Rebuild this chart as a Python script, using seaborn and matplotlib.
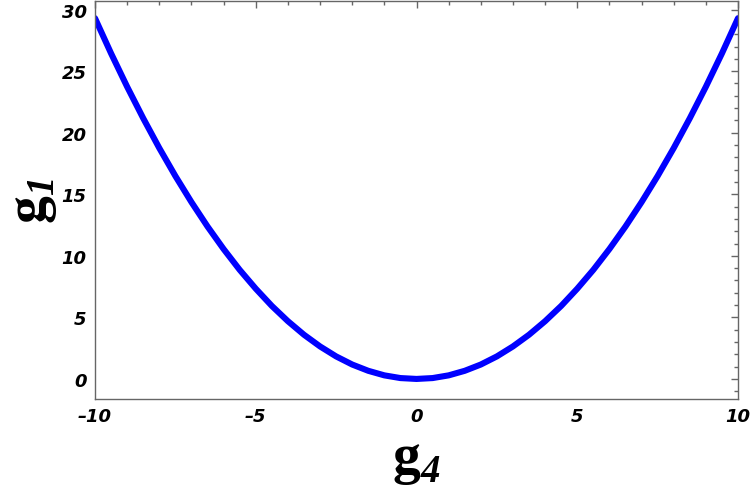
import matplotlib
matplotlib.use("Agg")
import matplotlib.pyplot as plt
import seaborn as sns
import numpy as np
import pandas as pd
from matplotlib.ticker import MultipleLocator

# values
g4_values = [-10, -9.5, -9, -8.5, -8, -7.5, -7, -6.5, -6, -5.5, -5, -4.5, -4, -3.5, -3, -2.5, -2, -1.5, -1, -0.5,
             0, 0.5, 1, 1.5, 2, 2.5, 3, 3.5, 4, 4.5, 5, 5.5, 6, 6.5, 7, 7.5, 8, 8.5, 9, 9.5, 10]
g1_half = [0, 0.07, 0.29, 0.66, 1.17, 1.83, 2.64, 3.59, 4.69, 5.93, 7.33, 8.86, 10.55, 12.38, 14.36,
           16.48, 18.75, 21.17, 23.73, 26.44, 29.3]
g1_values = g1_half[::-1] + g1_half[1:]

x_ticks = [-10, -5, 0, 5, 10]
y_ticks = [0, 5, 10, 15, 20, 25, 30]

sns.set_style("white")
plt.rcParams['mathtext.fontset'] = 'custom'
plt.rcParams['mathtext.bf'] = 'Liberation Serif:bold'
plt.rcParams['mathtext.rm'] = 'Liberation Serif:bold:italic'

df = pd.DataFrame({'g4': g4_values, 'g1': g1_values})

fig = plt.figure(figsize=(7.51, 4.89), dpi=100)
ax = fig.add_axes([0.1265, 0.182, 0.8562, 0.814])
sns.lineplot(data=df, x='g4', y='g1', ax=ax, color='#0000FF', linewidth=4.4, sort=False)
ax.lines[0].set_solid_joinstyle('round')

ax.set_xlim(-10, 10)
ax.set_ylim(-1.63, 30.7)
ax.set_xticks(x_ticks)
ax.set_yticks(y_ticks)
ax.set_xticklabels([str(t).replace('-', '\u2013') for t in x_ticks])
ax.set_yticklabels([str(t) for t in y_ticks])
ax.xaxis.set_minor_locator(MultipleLocator(1))
ax.yaxis.set_minor_locator(MultipleLocator(1))

for sp in ax.spines.values():
    sp.set_color('#666666')
    sp.set_linewidth(1.0)
ax.tick_params(which='both', direction='in', top=True, right=True, color='#666666', width=1.0,
               labelcolor='black')
ax.tick_params(which='major', length=5, pad=6)
ax.tick_params(which='minor', length=3)
for lab in ax.get_xticklabels() + ax.get_yticklabels():
    lab.set_fontweight('bold')
    lab.set_fontstyle('italic')
    lab.set_fontsize(13)
    lab.set_family('DejaVu Sans')

ax.set_xlabel(r'$\mathbf{g}_{\mathrm{4}}$', fontsize=40, labelpad=5, color='black')
ax.set_ylabel(r'$\mathbf{g}_{\mathrm{1}}$', fontsize=40, labelpad=2, color='black')

fig.savefig('out.png', dpi=100)
